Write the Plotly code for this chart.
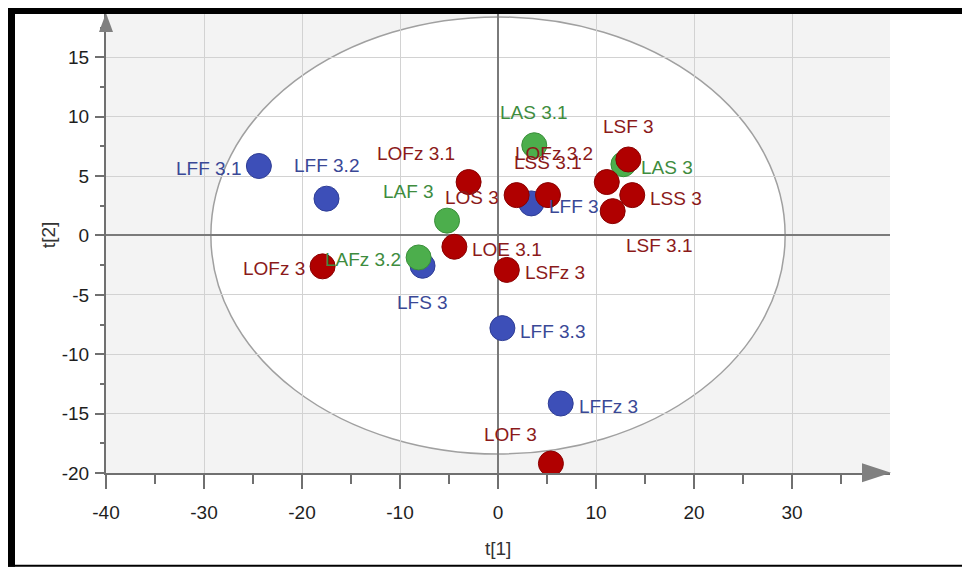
import plotly.graph_objects as go

# ---------------- data ----------------
blue_names = ["LFF 3.1", "LFF 3.2", "LFS 3", "LFF 3", "LFF 3.3", "LFFz 3"]
blue_t1 = [-24.4, -17.5, -7.7, 3.4, 0.45, 6.4]
blue_t2 = [5.85, 3.1, -2.55, 2.7, -7.8, -14.15]

green_names = ["LAF 3", "LAFz 3.2", "LAS 3.1", "LAS 3"]
green_t1 = [-5.2, -8.1, 3.7, 12.8]
green_t2 = [1.25, -1.85, 7.6, 6.0]

red_names = ["LOFz 3.1", "LOE 3.1", "LOFz 3", "LOS 3", "LSS 3.1", "LOFz 3.2",
             "LSF 3", "LSS 3", "LSF 3.1", "LSFz 3", "LOF 3"]
red_t1 = [-3.0, -4.45, -17.9, 1.9, 5.1, 11.1, 13.3, 13.7, 11.7, 0.9, 5.4]
red_t2 = [4.5, -0.95, -2.6, 3.4, 3.4, 4.5, 6.4, 3.4, 2.05, -2.9, -19.2]

x_ticks = [-40, -30, -20, -10, 0, 10, 20, 30]
x_ticktext = ["-40", "-30", "-20", "-10", "0", "10", "20", "30"]
x_minor = [-35, -25, -15, -5, 5, 15, 25, 35]
y_ticks = [-20, -15, -10, -5, 0, 5, 10, 15]
y_ticktext = ["-20", "-15", "-10", "-5", "0", "5", "10", "15"]
y_minor = [-17.5, -12.5, -7.5, -2.5, 2.5, 7.5, 12.5, 17.5]

# Hotelling ellipse semi-axes
ell_a = 29.3
ell_b = 18.4

# ---------------- style ----------------
blue_pos = ["L", "T", "B", "R", "R", "R"]
green_pos = ["TL", "L", "T", "R"]
red_pos = ["TL", "R", "L", "L", "T", "TL", "T", "R", "BR", "R", "TL"]

POS = {
    "R": ("left", 16, -3),
    "L": ("right", -16, -2),
    "T": ("center", 0, 33),
    "TL": ("right", -11.5, 29),
    "B": ("center", 0, -37),
    "BR": ("left", 11, -34),
}

FONT = "Liberation Sans, Arial, sans-serif"
OFF = 8  # page body margin
W, H = 970 - OFF, 567 - OFF
ML = 106 - OFF
MT = 14 - OFF
MR = W - (890 - OFF)
MB = H - (472.7 - OFF)
PW, PH = W - ML - MR, H - MT - MB


def px(xp):
    """reference-image pixel x -> paper coordinate"""
    return (xp - OFF - ML) / PW


def py(yp):
    """reference-image pixel y -> paper coordinate"""
    return (H - MB - (yp - OFF)) / PH


groups = [
    (blue_names, blue_t1, blue_t2, blue_pos, "#3d4fb8", "#2e3d95", "#3a4896"),
    (green_names, green_t1, green_t2, green_pos, "#4cae4c", "#3a8f3a", "#3e8c3e"),
    (red_names, red_t1, red_t2, red_pos, "#b00000", "#8a0000", "#8b1a1a"),
]

fig = go.Figure()
annotations = []
for names, xs, ys, pos, fill, edge, tcol in groups:
    fig.add_trace(go.Scatter(
        x=xs, y=ys, mode="markers", text=names, cliponaxis=True,
        marker=dict(size=25, color=fill, line=dict(color=edge, width=1)),
        showlegend=False,
    ))
    for n, xv, yv, p in zip(names, xs, ys, pos):
        xa, xs_, ys_ = POS[p]
        annotations.append(dict(
            x=xv, y=yv, xref="x", yref="y", text=n, showarrow=False,
            xanchor=xa, yanchor="middle", xshift=xs_, yshift=ys_,
            font=dict(family=FONT, size=19, color=tcol),
        ))

# axis titles
annotations.append(dict(x=px(48), y=py(235), xref="paper", yref="paper", text="t[2]",
                        showarrow=False, textangle=-90, xanchor="center", yanchor="middle",
                        font=dict(family=FONT, size=19, color="#333333")))
annotations.append(dict(x=px(498), y=py(548), xref="paper", yref="paper", text="t[1]",
                        showarrow=False, xanchor="center", yanchor="middle",
                        font=dict(family=FONT, size=19, color="#333333")))

shapes = [
    # white ellipse interior
    dict(type="circle", xref="x", yref="y", x0=-ell_a, x1=ell_a, y0=-ell_b, y1=ell_b,
         fillcolor="white", line=dict(color="#a0a0a0", width=1.5), layer="below"),
    # arrow heads
    dict(type="path", xref="paper", yref="paper",
         path=f"M {px(106)} {py(13)} L {px(99)} {py(32)} L {px(113)} {py(32)} Z",
         fillcolor="#808080", line=dict(width=0), layer="above"),
    dict(type="path", xref="paper", yref="paper",
         path=f"M {px(891)} {py(472.5)} L {px(862)} {py(463)} L {px(862)} {py(482)} Z",
         fillcolor="#808080", line=dict(width=0), layer="above"),
    # black frame
    dict(type="rect", xref="paper", yref="paper", x0=px(7), x1=px(15), y0=py(566.5), y1=py(6),
         fillcolor="black", line=dict(width=0), layer="above"),
    dict(type="rect", xref="paper", yref="paper", x0=px(7), x1=px(975), y0=py(14), y1=py(6),
         fillcolor="black", line=dict(width=0), layer="above"),
    dict(type="rect", xref="paper", yref="paper", x0=px(7), x1=px(975), y0=py(566.5), y1=py(564.5),
         fillcolor="black", line=dict(width=0), layer="above"),
]

axis_common = dict(
    showgrid=True, gridcolor="#d2d2d2", gridwidth=1,
    zeroline=True, zerolinecolor="#7a7a7a", zerolinewidth=2,
    showline=True, linecolor="#707070", linewidth=2,
    ticks="outside", tickcolor="#707070", tickwidth=2,
    tickfont=dict(family=FONT, size=19, color="#1e1e1e"),
    tickmode="array", fixedrange=True,
)

fig.update_layout(
    width=W, height=H,
    margin=dict(l=ML, r=MR, t=MT, b=MB, pad=0),
    paper_bgcolor="white", plot_bgcolor="#f3f3f3",
    xaxis=dict(range=[-40, 40], tickvals=x_ticks, ticktext=x_ticktext, ticklen=14,
               ticklabelstandoff=7,
               minor=dict(tickvals=x_minor, ticks="outside", ticklen=9, tickwidth=2,
                          tickcolor="#707070", showgrid=False),
               **axis_common),
    yaxis=dict(range=[-20, 18.65], tickvals=y_ticks, ticktext=y_ticktext, ticklen=9,
               ticklabelstandoff=2,
               minor=dict(tickvals=y_minor, ticks="outside", ticklen=4, tickwidth=2,
                          tickcolor="#707070", showgrid=False),
               **axis_common),
    shapes=shapes,
    annotations=annotations,
    showlegend=False,
)

fig.write_html("out.html")
